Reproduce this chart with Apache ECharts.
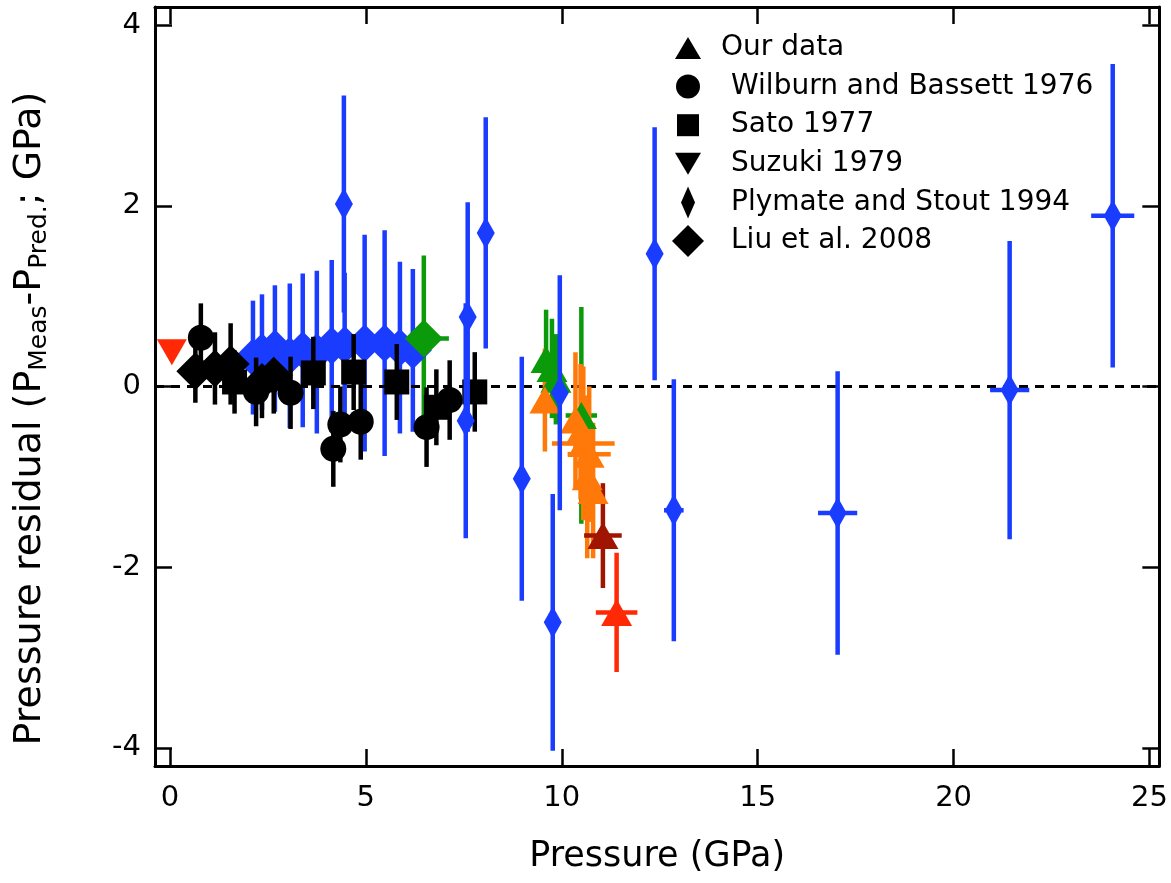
<!DOCTYPE html>
<html>
<head>
<meta charset="utf-8">
<script src="https://cdn.jsdelivr.net/npm/echarts@6/dist/echarts.min.js"></script>
<style>
  html, body { margin: 0; padding: 0; background: #fff; }
  #chart { width: 1171px; height: 883px; }
</style>
</head>
<body>
<div id="chart"></div>
<script>
// colour of each point = sample / run it belongs to
const palette = { black: '#000000', blue: '#1a3cff', green: '#0a9a0a', orange: '#ff780a', maroon: '#a01400', red: '#ff2a05' };

// Our data (triangles)
const ourP  = [9.6, 9.75, 9.85, 10.5, 9.57, 10.35, 10.48, 10.55, 10.7, 10.65, 10.8, 11.05, 11.4];
const ourR  = [0.3, 0.2, 0.08, -0.32, -0.15, -0.37, -0.5, -0.63, -0.75, -1.0, -1.15, -1.65, -2.5];
const ourDP = [0.05, 0.05, 0.05, 0.4, 0.12, 0.1, 0.2, 0.8, 0.55, 0.15, 0.25, 0.48, 0.53];
const ourDR = [0.55, 0.55, 0.5, 1.2, 0.57, 0.75, 0.75, 0.85, 0.75, 0.9, 0.75, 0.58, 0.66];
const ourSet = ['green', 'green', 'green', 'green', 'orange', 'orange', 'orange', 'orange', 'orange', 'orange', 'orange', 'maroon', 'red'];

// Wilburn and Bassett 1976 (circles)
const wbP  = [0.79, 2.2, 3.08, 4.17, 4.35, 4.87, 6.55, 7.14];
const wbR  = [0.54, -0.06, -0.07, -0.69, -0.42, -0.39, -0.45, -0.15];
const wbDR = [0.38, 0.38, 0.4, 0.42, 0.42, 0.42, 0.44, 0.44];

// Sato 1977 (squares)
const satoP  = [1.65, 3.66, 4.69, 5.79, 6.8, 7.78];
const satoR  = [0.05, 0.15, 0.16, 0.05, -0.23, -0.06];
const satoDR = [0.35, 0.4, 0.42, 0.42, 0.42, 0.44];

// Suzuki 1979 (down triangle)
const suzP = [0.05];
const suzR = [0.38];

// Plymate and Stout 1994 (thin diamonds)
const psP  = [4.44, 7.55, 7.6, 8.06, 8.98, 9.77, 9.95, 12.37, 12.86, 17.04, 21.43, 24.06];
const psR  = [2.02, -0.38, 0.77, 1.70, -1.02, -2.61, -0.07, 1.47, -1.37, -1.40, -0.04, 1.89];
const psDP = [0.08, 0.08, 0.08, 0.08, 0.08, 0.08, 0.08, 0.15, 0.25, 0.5, 0.5, 0.55];
const psDR = [1.2, 1.3, 1.27, 1.28, 1.35, 1.42, 1.3, 1.4, 1.45, 1.57, 1.65, 1.68];

// Liu et al. 2008 (diamonds)
const liuP  = [2.12, 2.35, 2.68, 3.06, 3.39, 3.75, 4.13, 4.46, 4.97, 5.48, 5.87, 6.2, 0.65, 1.15, 1.55, 2.35, 2.65, 6.48];
const liuR  = [0.32, 0.38, 0.42, 0.34, 0.40, 0.38, 0.45, 0.46, 0.48, 0.48, 0.43, 0.40, 0.17, 0.2, 0.25, 0.05, 0.12, 0.53];
const liuDP = [0, 0, 0, 0, 0, 0, 0, 0, 0, 0, 0, 0, 0, 0, 0, 0, 0, 0.64];
const liuDR = [0.63, 0.64, 0.7, 0.8, 0.85, 0.9, 0.95, 0.8, 1.2, 1.25, 0.95, 0.9, 0.35, 0.4, 0.45, 0.4, 0.42, 0.92];
const liuSet = ['blue', 'blue', 'blue', 'blue', 'blue', 'blue', 'blue', 'blue', 'blue', 'blue', 'blue', 'blue', 'black', 'black', 'black', 'black', 'black', 'green'];

const xTicks = [0, 5, 10, 15, 20, 25];
const yTicks = [-4, -2, 0, 2, 4];

const FONT = '"DejaVu Sans", sans-serif';
const zeros = (n) => new Array(n).fill(0);
const same = (n, c) => new Array(n).fill(c);

const ICON = {
  tri: 'path://M-16,-16M16,16M0,-11L13,11L-13,11Z',
  circle: 'path://M-16,-16M16,16M-12,0A12,12,0,1,1,12,0A12,12,0,1,1,-12,0Z',
  square: 'path://M-16,-16M16,16M-11,-11L11,-11L11,11L-11,11Z',
  down: 'path://M-16,-16M16,16M-13,-11L13,-11L0,11Z',
  thin: 'path://M-16,-16M16,16M0,-16L7,0L0,16L-7,0Z',
  diamond: 'path://M-16,-16M16,16M0,-16L16,0L0,16L-16,0Z'
};

function errorBars(name, P, R, dP, dR, set, z) {
  return {
    name, type: 'custom', z, silent: true, clip: false,
    data: P.map((p, i) => [p, R[i], dP[i], dR[i]]),
    encode: { x: 0, y: 1 },
    renderItem(params, api) {
      const i = params.dataIndex;
      const x = api.value(0), y = api.value(1), ex = api.value(2), ey = api.value(3);
      const col = palette[set[i]];
      const children = [];
      if (ey) {
        const a = api.coord([x, y - ey]), b = api.coord([x, y + ey]);
        children.push({ type: 'line', shape: { x1: a[0], y1: a[1], x2: b[0], y2: b[1] }, style: { stroke: col, lineWidth: 4.5 } });
      }
      if (ex) {
        const a = api.coord([x - ex, y]), b = api.coord([x + ex, y]);
        children.push({ type: 'line', shape: { x1: a[0], y1: a[1], x2: b[0], y2: b[1] }, style: { stroke: col, lineWidth: 4.5 } });
      }
      return { type: 'group', children };
    }
  };
}

function markers(name, P, R, set, symbol, size, z, extra) {
  return Object.assign({
    name, type: 'scatter', z, symbol, symbolSize: size,
    itemStyle: { opacity: 1 },
    emphasis: { disabled: true },
    data: P.map((p, i) => ({ value: [p, R[i]], itemStyle: { color: palette[set[i]], opacity: 1 } }))
  }, extra || {});
}

const series = [
  errorBars('Liu et al. 2008', liuP, liuR, liuDP, liuDR, liuSet, 2),
  markers('Liu et al. 2008', liuP, liuR, liuSet, 'diamond', 38, 3, {
    markLine: {
      silent: true, symbol: 'none', label: { show: false },
      lineStyle: { color: '#000', width: 3, type: [9, 7] },
      data: [{ yAxis: 0 }]
    }
  }),
  errorBars('Wilburn and Bassett 1976', wbP, wbR, zeros(wbP.length), wbDR, same(wbP.length, 'black'), 4),
  markers('Wilburn and Bassett 1976', wbP, wbR, same(wbP.length, 'black'), 'circle', 26, 5),
  errorBars('Sato 1977', satoP, satoR, zeros(satoP.length), satoDR, same(satoP.length, 'black'), 6),
  markers('Sato 1977', satoP, satoR, same(satoP.length, 'black'), 'rect', 25, 7),
  errorBars('Our data', ourP, ourR, ourDP, ourDR, ourSet, 8),
  markers('Our data', ourP, ourR, ourSet, 'triangle', [31, 27], 9),
  errorBars('Plymate and Stout 1994', psP, psR, psDP, psDR, same(psP.length, 'blue'), 10),
  markers('Plymate and Stout 1994', psP, psR, same(psP.length, 'blue'), 'path://M0,-1L0.55,0L0,1L-0.55,0Z', [18, 32], 11),
  markers('Suzuki 1979', suzP, suzR, ['red'], 'path://M-1,-1L1,-1L0,1Z', [30, 26], 12)
];

const axisCommon = {
  type: 'value',
  axisLine: { onZero: false, lineStyle: { color: '#000', width: 3 } },
  axisTick: { inside: true, length: 17, lineStyle: { color: '#000', width: 2.5 } },
  splitLine: { show: false }
};

const legendItem = (name, icon) => ({ name, icon, itemStyle: { color: '#000', opacity: 1 } });

const chart = echarts.init(document.getElementById('chart'));
chart.setOption({
  animation: false,
  backgroundColor: '#fff',
  grid: { left: 155, right: 11, top: 7, bottom: 117 },
  legend: {
    orient: 'vertical', left: 667, top: 27,
    itemWidth: 32, itemHeight: 32, itemGap: 6.6,
    selectedMode: false,
    data: [
      legendItem('Our data', ICON.tri),
      legendItem('Wilburn and Bassett 1976', ICON.circle),
      legendItem('Sato 1977', ICON.square),
      legendItem('Suzuki 1979', ICON.down),
      legendItem('Plymate and Stout 1994', ICON.thin),
      legendItem('Liu et al. 2008', ICON.diamond)
    ],
    formatter: (n) => n === 'Our data' ? `{a|${n}}` : `{b|${n}}`,
    textStyle: {
      color: '#000', fontFamily: FONT, fontSize: 28, lineHeight: 32,
      rich: {
        a: { fontFamily: FONT, fontSize: 28, color: '#000', padding: [0, 0, 0, 12] },
        b: { fontFamily: FONT, fontSize: 28, color: '#000', padding: [0, 0, 0, 22] }
      }
    }
  },
  xAxis: [
    Object.assign({}, axisCommon, {
      position: 'bottom', min: -0.38, max: 25.25,
      axisTick: Object.assign({}, axisCommon.axisTick, { customValues: xTicks }),
      axisLabel: { customValues: xTicks, color: '#000', fontFamily: FONT, fontSize: 29, margin: 18 },
      name: 'Pressure (GPa)', nameLocation: 'middle', nameGap: 73,
      nameTextStyle: { color: '#000', fontFamily: FONT, fontSize: 35 }
    }),
    Object.assign({}, axisCommon, {
      position: 'top', min: -0.38, max: 25.25,
      axisTick: Object.assign({}, axisCommon.axisTick, { customValues: xTicks }),
      axisLabel: { show: false }
    })
  ],
  yAxis: [
    Object.assign({}, axisCommon, {
      position: 'left', min: -4.2, max: 4.2,
      axisTick: Object.assign({}, axisCommon.axisTick, { customValues: yTicks }),
      axisLabel: { customValues: yTicks, color: '#000', fontFamily: FONT, fontSize: 29, margin: 14 },
      name: '{m|Pressure residual (P}{s|Meas}{m|-P}{s|Pred.}{m|; GPa)}',
      nameLocation: 'middle', nameGap: 103,
      nameTextStyle: {
        color: '#000',
        padding: [0, 64, 0, 0],
        rich: {
          m: { fontFamily: FONT, fontSize: 38, color: '#000' },
          s: { fontFamily: FONT, fontSize: 25, color: '#000', padding: [18, 0, 0, 0] }
        }
      }
    }),
    Object.assign({}, axisCommon, {
      position: 'right', min: -4.2, max: 4.2,
      axisTick: Object.assign({}, axisCommon.axisTick, { customValues: yTicks }),
      axisLabel: { show: false }
    })
  ],
  series
});
window.addEventListener('resize', () => chart.resize());
</script>
</body>
</html>
